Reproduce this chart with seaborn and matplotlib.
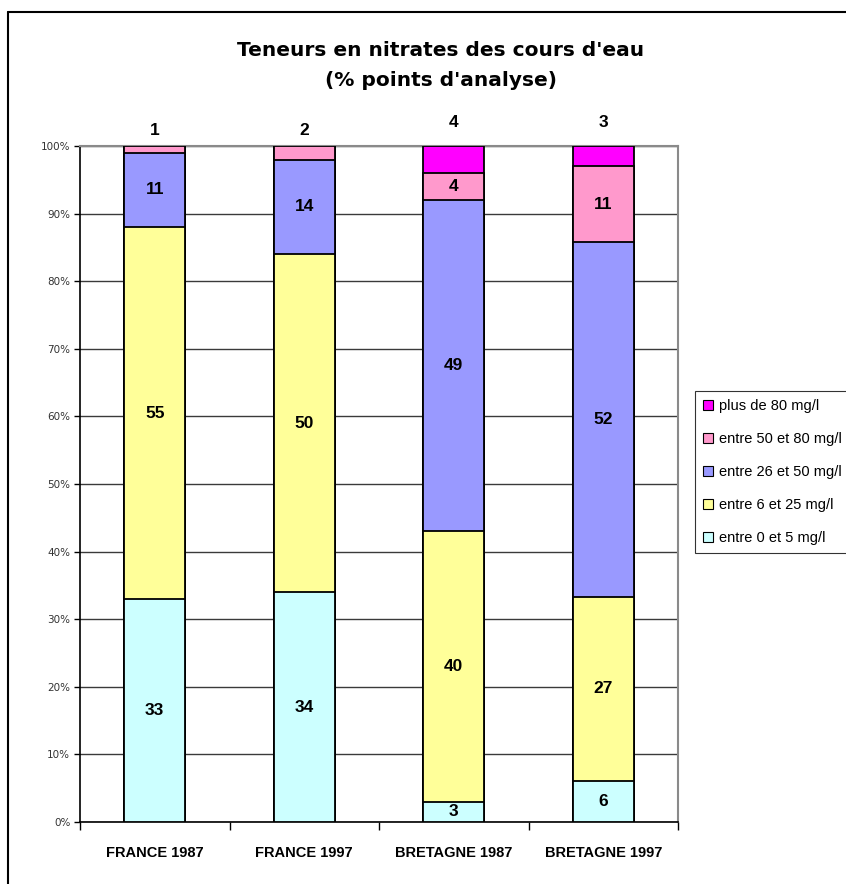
import numpy as np
import pandas as pd
import matplotlib
matplotlib.use("Agg")
import matplotlib.pyplot as plt
import matplotlib.patches as mpatches
from matplotlib.lines import Line2D
import seaborn as sns

categories = ["FRANCE 1987", "FRANCE 1997", "BRETAGNE 1987", "BRETAGNE 1997"]
series_names = ["entre 0 et 5 mg/l", "entre 6 et 25 mg/l", "entre 26 et 50 mg/l",
                "entre 50 et 80 mg/l", "plus de 80 mg/l"]
v_0_5 = [33, 34, 3, 6]
v_6_25 = [55, 50, 40, 27]
v_26_50 = [11, 14, 49, 52]
v_50_80 = [1, 2, 4, 11]
v_80 = [0, 0, 4, 3]
colors = ["#CCFFFF", "#FFFF99", "#9999FF", "#FF99CC", "#FF00FF"]

sns.set_theme(style="white")
plt.rcParams['font.family'] = ['Liberation Sans', 'DejaVu Sans']
plt.rcParams['text.color'] = 'black'
plt.rcParams['xtick.color'] = 'black'
plt.rcParams['ytick.color'] = 'black'

vals = np.array([v_0_5, v_6_25, v_26_50, v_50_80, v_80], dtype=float)
pct = vals / vals.sum(axis=0) * 100
cum = np.cumsum(pct, axis=0)

W, H = 846, 884
fig = plt.figure(figsize=(W / 100, H / 100), dpi=100)
ax = fig.add_axes([80 / W, (H - 822) / H, (678 - 80) / W, (822 - 146) / H])

for i in range(len(series_names) - 1, -1, -1):
    df = pd.DataFrame({"cat": categories, "val": cum[i]})
    sns.barplot(data=df, x="cat", y="val", order=categories, color=colors[i],
                saturation=1, width=0.41, edgecolor="black", linewidth=1.3,
                ax=ax, zorder=3)

ax.set_xlim(-0.5, 3.5)
ax.set_ylim(0, 100)
ax.set_yticks(np.arange(0, 101, 10))
ax.set_yticklabels([f"{t}%" for t in range(0, 101, 10)], fontsize=7.5,
                   color="#333333", family=["DejaVu Sans"])
ax.yaxis.grid(True, color="#3a3a3a", linewidth=1.0, zorder=0)
ax.set_axisbelow(True)
ax.set_xlabel("")
ax.set_ylabel("")

ax.set_xticks(range(4))
ax.set_xticklabels(categories, fontsize=10.5, fontweight="bold", color="black")
ax.set_xticks(np.arange(-0.5, 4, 1), minor=True)
ax.tick_params(axis="x", which="major", length=0, pad=17)
ax.tick_params(axis="x", which="minor", length=6, width=1, color="black",
               direction="out", bottom=True)
ax.tick_params(axis="y", length=4, width=1, color="black", direction="out",
               left=True, pad=3)

for s in ["left", "bottom"]:
    ax.spines[s].set_color("black")
    ax.spines[s].set_linewidth(1.2)
for s in ["right", "top"]:
    ax.spines[s].set_color("#8a8a8a")
    ax.spines[s].set_linewidth(1.5)

for j in range(len(categories)):
    nz = [i for i in range(len(series_names)) if vals[i, j] > 0]
    top = nz[-1]
    for i in nz:
        v = int(vals[i, j])
        if i == top:
            off = 24 if i == len(series_names) - 1 else 16
            ax.annotate(str(v), xy=(j, 100), xytext=(0, off * 0.72),
                        textcoords="offset points", ha="center", va="center",
                        fontsize=12.5, fontweight="bold", color="black",
                        annotation_clip=False)
        else:
            mid = cum[i, j] - pct[i, j] / 2
            ax.text(j, mid, str(v), ha="center", va="center", fontsize=12.5,
                    fontweight="bold", color="black", zorder=5)

fig.text(441 / W, 1 - 50 / H, "Teneurs en nitrates des cours d'eau",
         ha="center", va="center", fontsize=14.5, fontweight="bold",
         color="black", family=["DejaVu Sans"])
fig.text(441 / W, 1 - 80 / H, "(% points d'analyse)",
         ha="center", va="center", fontsize=14.5, fontweight="bold",
         color="black", family=["DejaVu Sans"])

handles = [mpatches.Patch(facecolor=colors[i], edgecolor="black", linewidth=0.8,
                          label=series_names[i])
           for i in range(len(series_names) - 1, -1, -1)]
leg = fig.legend(handles=handles, loc="upper left",
                 bbox_to_anchor=(695 / W, 1 - 391 / H), frameon=True,
                 fontsize=10.5, handlelength=0.65, handleheight=0.65,
                 handletextpad=0.45, labelspacing=1.3, borderpad=0.55,
                 borderaxespad=0, fancybox=False)
leg.get_frame().set_edgecolor("black")
leg.get_frame().set_linewidth(0.8)
for t in leg.get_texts():
    t.set_color("black")

fig.add_artist(Line2D([8 / W, 8 / W], [0, 1 - 12 / H], color="black",
                      linewidth=1.5, transform=fig.transFigure))
fig.add_artist(Line2D([8 / W, 1], [1 - 12 / H, 1 - 12 / H], color="black",
                      linewidth=1.5, transform=fig.transFigure))

fig.savefig("out.png", dpi=100, facecolor="white")
